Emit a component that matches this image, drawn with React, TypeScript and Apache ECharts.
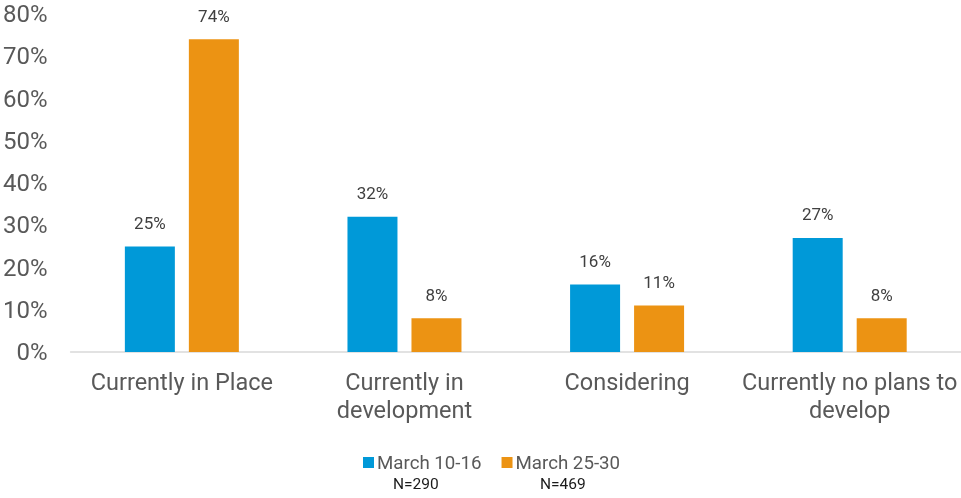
import React, { useEffect, useRef } from "react";
import * as echarts from "echarts";

const categories = ["Currently in Place", "Currently in\ndevelopment", "Considering", "Currently no plans to\ndevelop"];
const seriesNames = ["March 10-16", "March 25-30"];
const march10 = [25, 32, 16, 27];
const march25 = [74, 8, 11, 8];
const sampleSizes = ["N=290", "N=469"];
const colors = ["#0099D8", "#EC9313"];

export default function App() {
  const ref = useRef<HTMLDivElement>(null);
  useEffect(() => {
    if (!ref.current) return;
    const chart = echarts.init(ref.current, undefined, { renderer: "svg" });
    const labelCfg = {
      show: true,
      position: "top" as const,
      distance: 15,
      formatter: "{c}%",
      color: "#404040",
      fontSize: 17,
      fontFamily: "Roboto",
    };
    chart.setOption({
      animation: false,
      textStyle: { fontFamily: "Roboto" },
      grid: { left: 69, right: 0, top: 14, bottom: 146, containLabel: false },
      legend: {
        left: 358,
        top: 448,
        itemWidth: 11,
        itemHeight: 11,
        itemGap: 20,
        icon: "rect",
        textStyle: { color: "#595959", fontSize: 18.7, fontFamily: "Roboto", padding: [0, 0, 0, -2] },
        data: seriesNames,
      },
      xAxis: {
        type: "category",
        data: categories,
        axisLine: { lineStyle: { color: "#D9D9D9", width: 1.5 } },
        axisTick: { show: false },
        axisLabel: { color: "#595959", fontSize: 23.5, lineHeight: 28, margin: 16, interval: 0 },
      },
      yAxis: {
        type: "value",
        min: 0,
        max: 80,
        interval: 10,
        axisLine: { show: false },
        axisTick: { show: false },
        splitLine: { show: false },
        axisLabel: { color: "#595959", fontSize: 24, margin: 23, formatter: "{value}%" },
      },
      series: [
        {
          name: seriesNames[0],
          type: "bar",
          data: march10,
          itemStyle: { color: colors[0] },
          barWidth: 50,
          barGap: "28%",
          label: labelCfg,
        },
        {
          name: seriesNames[1],
          type: "bar",
          data: march25,
          itemStyle: { color: colors[1] },
          barWidth: 50,
          label: labelCfg,
        },
      ],
      graphic: [
        {
          type: "text",
          left: 393,
          top: 476,
          style: { text: sampleSizes[0], fill: "#1a1a1a", fontSize: 15.5, fontFamily: "Roboto" },
        },
        {
          type: "text",
          left: 540,
          top: 476,
          style: { text: sampleSizes[1], fill: "#1a1a1a", fontSize: 15.5, fontFamily: "Roboto" },
        },
      ],
    });
    return () => chart.dispose();
  }, []);
  return <div ref={ref} style={{ width: 961, height: 498, position: "fixed", left: 0, top: 0 }} />;
}
